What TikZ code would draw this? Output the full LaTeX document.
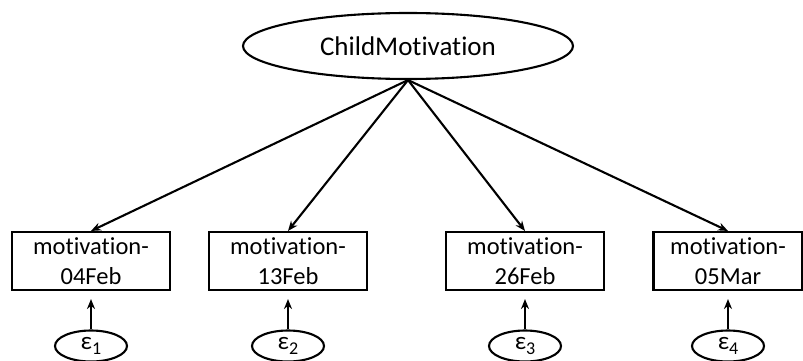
\documentclass[tikz,border=0pt]{standalone}
\usepackage{fontspec}
\setmainfont[Ligatures=NoCommon]{Carlito}
\usetikzlibrary{arrows.meta,shapes.geometric}
\begin{document}
\begin{tikzpicture}[x=1pt,y=-1pt,
  latent/.style={draw,ellipse,line width=2.1pt,inner sep=0pt,font=\fontsize{27}{30}\selectfont},
  obsbox/.style={draw,rectangle,line width=2.1pt,inner sep=0pt,minimum width=158pt,minimum height=58pt,align=center,font=\fontsize{24.5}{30}\selectfont},
  errnode/.style={draw,ellipse,line width=2.1pt,inner sep=0pt,minimum width=72pt,minimum height=31pt,font=\fontsize{25}{28}\selectfont},
  arr/.style={line width=2.1pt,-{Stealth[length=10pt,width=8pt]}}]
\useasboundingbox (0,0) rectangle (803,361);
\node[latent,minimum width=330pt,minimum height=66pt] (cm) at (408,46) {ChildMotivation};
\node[obsbox] (o1) at (91,261) {motivation-\\04Feb};
\node[obsbox] (o2) at (288,261) {motivation-\\13Feb};
\node[obsbox] (o3) at (525,261) {motivation-\\26Feb};
\node[obsbox,minimum width=149pt] (o4) at (728,261) {motivation-\\05Mar};
\foreach \i in {1,...,4}{
  \node[errnode] (e\i) at (o\i.center |- 0,346) {ε\raisebox{-0.35ex}{\fontsize{18}{20}\selectfont \i}};
  \draw[arr] (cm.south) -- (o\i.north);
  \draw[arr,shorten >=8pt] (e\i.north) -- (o\i.south);
}
\end{tikzpicture}
\end{document}
